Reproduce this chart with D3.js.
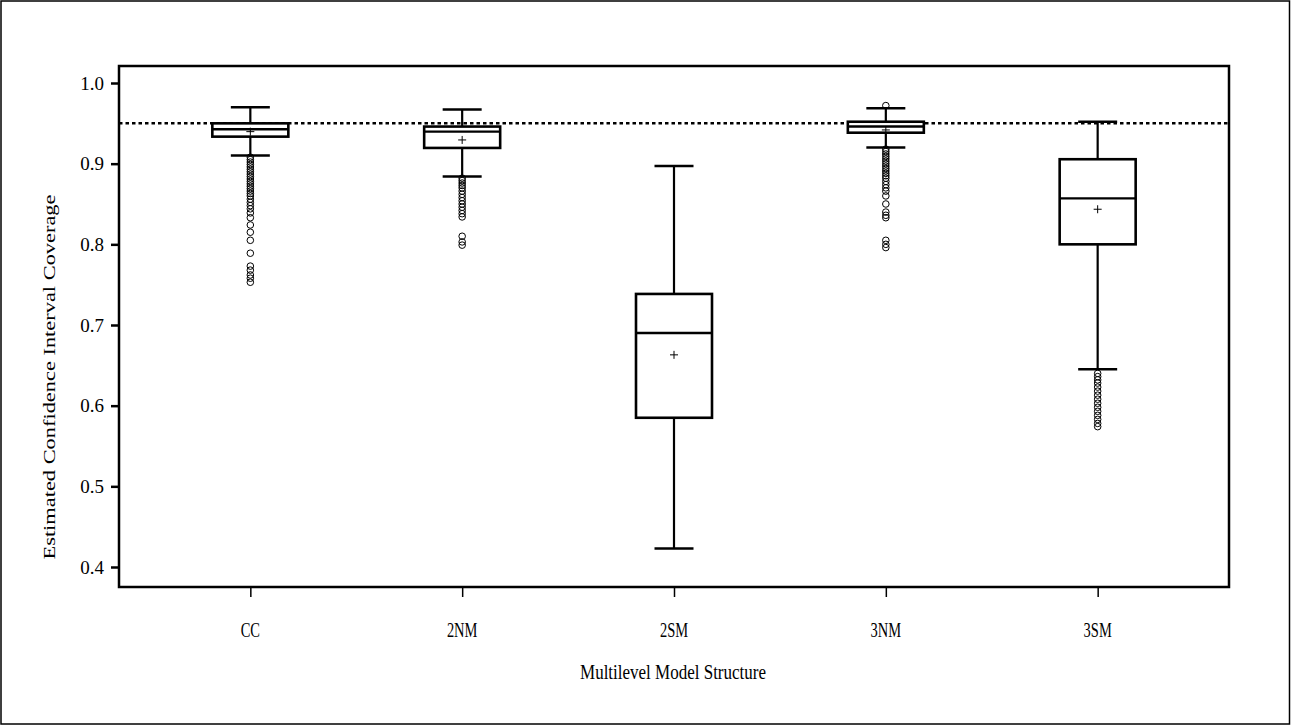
<!DOCTYPE html>
<html>
<head>
<meta charset="utf-8">
<script src="https://cdn.jsdelivr.net/npm/d3@7"></script>
<style>
  html, body { margin: 0; padding: 0; background: #fff; }
  svg { display: block; }
  text { font-family: "Liberation Serif", "DejaVu Serif", serif; fill: #000; }
</style>
</head>
<body>
<svg id="chart" width="1291" height="725"></svg>
<script>
// Model structures along the x axis
const categories = ["CC", "2NM", "2SM", "3NM", "3SM"];

// Box summaries per structure: whiskers, quartiles, median, mean
const whiskerLow  = [0.910, 0.884, 0.423, 0.920, 0.645];
const q1          = [0.9335, 0.9195, 0.585, 0.9384, 0.800];
const medians     = [0.9426, 0.9397, 0.690, 0.9460, 0.857];
const q3          = [0.950, 0.946, 0.7385, 0.952, 0.9055];
const whiskerHigh = [0.970, 0.967, 0.897, 0.9686, 0.952];
const means       = [0.9397, 0.9294, 0.663, 0.9418, 0.8435];

// Outlying coverage estimates per structure
const outliersCC = [0.908, 0.905, 0.902, 0.899, 0.896, 0.893, 0.890, 0.887, 0.884, 0.881,
  0.878, 0.875, 0.872, 0.869, 0.866, 0.863, 0.860, 0.856, 0.852, 0.848, 0.844, 0.839,
  0.833, 0.824, 0.815, 0.805, 0.789, 0.773, 0.768, 0.762, 0.758, 0.753];
const outlier2NM = [0.882, 0.879, 0.876, 0.873, 0.870, 0.866, 0.862, 0.858, 0.854, 0.850,
  0.846, 0.842, 0.838, 0.834, 0.810, 0.803, 0.799];
const outlier2SM = [];
const outlier3NM = [0.972, 0.918, 0.915, 0.912, 0.909, 0.906, 0.903, 0.900, 0.897, 0.894,
  0.891, 0.888, 0.885, 0.882, 0.878, 0.874, 0.870, 0.866, 0.860, 0.850, 0.840, 0.836,
  0.833, 0.805, 0.800, 0.796];
const outlier3SM = [0.640, 0.636, 0.632, 0.628, 0.623, 0.618, 0.613, 0.608, 0.603, 0.598,
  0.593, 0.588, 0.583, 0.578, 0.574];
const outliers = [outliersCC, outlier2NM, outlier2SM, outlier3NM, outlier3SM];

// Nominal coverage reference line
const nominal = 0.95;
const yTicks = [0.4, 0.5, 0.6, 0.7, 0.8, 0.9, 1.0];

const svg = d3.select("#chart");
const W = 1291, H = 725;
const plot = { left: 119, right: 1229, top: 66, bottom: 587 };

// Outer border around the whole figure
svg.append("rect")
  .attr("x", 1).attr("y", 1).attr("width", W - 2.5).attr("height", H - 2)
  .attr("fill", "none").attr("stroke", "#000").attr("stroke-width", 1.5);

const x = d3.scalePoint().domain(categories)
  .range([plot.left, plot.right]).padding(0.62);
const y = d3.scaleLinear().domain([0.4, 1.0]).range([567, 83]);

const boxHalf = 38;
const capHalf = 19.5;

const data = categories.map((c, i) => ({
  cat: c, lo: whiskerLow[i], q1: q1[i], med: medians[i], q3: q3[i],
  hi: whiskerHigh[i], mean: means[i], out: outliers[i]
}));

// Reference line at nominal coverage
svg.append("line")
  .attr("x1", plot.left).attr("x2", plot.right)
  .attr("y1", y(nominal)).attr("y2", y(nominal))
  .attr("stroke", "#000").attr("stroke-width", 2.5)
  .attr("stroke-dasharray", "3.5,3");

const g = svg.append("g").selectAll("g").data(data).join("g")
  .attr("transform", d => `translate(${x(d.cat)},0)`);

// Outlier circles
g.each(function(d) {
  d3.select(this).selectAll("circle").data(d.out).join("circle")
    .attr("cx", 0).attr("cy", v => y(v)).attr("r", 3.3)
    .attr("fill", "none").attr("stroke", "#000").attr("stroke-width", 1);
});

// Whiskers
g.append("line").attr("x1", 0).attr("x2", 0)
  .attr("y1", d => y(d.hi)).attr("y2", d => y(d.q3))
  .attr("stroke", "#000").attr("stroke-width", 2.2);
g.append("line").attr("x1", 0).attr("x2", 0)
  .attr("y1", d => y(d.q1)).attr("y2", d => y(d.lo))
  .attr("stroke", "#000").attr("stroke-width", 2.2);
g.append("line").attr("x1", -capHalf).attr("x2", capHalf)
  .attr("y1", d => y(d.hi)).attr("y2", d => y(d.hi))
  .attr("stroke", "#000").attr("stroke-width", 2.5);
g.append("line").attr("x1", -capHalf).attr("x2", capHalf)
  .attr("y1", d => y(d.lo)).attr("y2", d => y(d.lo))
  .attr("stroke", "#000").attr("stroke-width", 2.5);

// Boxes
g.append("rect")
  .attr("x", -boxHalf).attr("width", boxHalf * 2)
  .attr("y", d => y(d.q3)).attr("height", d => y(d.q1) - y(d.q3))
  .attr("fill", "#fff").attr("stroke", "#000").attr("stroke-width", 2.6);
g.append("line").attr("x1", -boxHalf).attr("x2", boxHalf)
  .attr("y1", d => y(d.med)).attr("y2", d => y(d.med))
  .attr("stroke", "#000").attr("stroke-width", 2.4);

// Mean markers
g.append("path")
  .attr("d", d => `M-4,${y(d.mean)}H4M0,${y(d.mean) - 4}V${y(d.mean) + 4}`)
  .attr("stroke", "#000").attr("stroke-width", 1).attr("fill", "none");

// Plot frame
svg.append("rect")
  .attr("x", plot.left).attr("y", plot.top)
  .attr("width", plot.right - plot.left).attr("height", plot.bottom - plot.top)
  .attr("fill", "none").attr("stroke", "#000").attr("stroke-width", 2.5);

// Y axis
const yAxis = svg.append("g")
  .attr("transform", `translate(${plot.left},0)`)
  .call(d3.axisLeft(y).tickValues(yTicks).tickFormat(d3.format(".1f"))
    .tickSize(8).tickPadding(7));
yAxis.select(".domain").remove();
yAxis.selectAll(".tick line").attr("stroke", "#000").attr("stroke-width", 2.5);
yAxis.selectAll(".tick text")
  .style("font-family", '"Liberation Serif", serif')
  .style("font-size", "19px").attr("fill", "#000");

// X axis: ticks from the axis generator, labels set in a tall narrow face
const xAxis = svg.append("g")
  .attr("transform", `translate(0,${plot.bottom})`)
  .call(d3.axisBottom(x).tickSize(10).tickFormat(""));
xAxis.select(".domain").remove();
xAxis.selectAll(".tick line").attr("stroke", "#000").attr("stroke-width", 1.5);

svg.append("g").selectAll("text").data(categories).join("text")
  .attr("transform", d => `translate(${x(d)},637) scale(1,1.45)`)
  .attr("text-anchor", "middle")
  .style("font-size", "14.5px")
  .text(d => d);

// Axis titles
svg.append("text")
  .attr("transform", `translate(55,377) rotate(-90)`)
  .attr("text-anchor", "middle")
  .attr("textLength", 365).attr("lengthAdjust", "spacingAndGlyphs")
  .style("font-size", "16px")
  .text("Estimated Confidence Interval Coverage");

svg.append("text")
  .attr("transform", `translate(${(plot.left + plot.right) / 2 - 1},679) scale(1,1.25)`)
  .attr("text-anchor", "middle")
  .style("font-size", "17px")
  .text("Multilevel Model Structure");
</script>
</body>
</html>
